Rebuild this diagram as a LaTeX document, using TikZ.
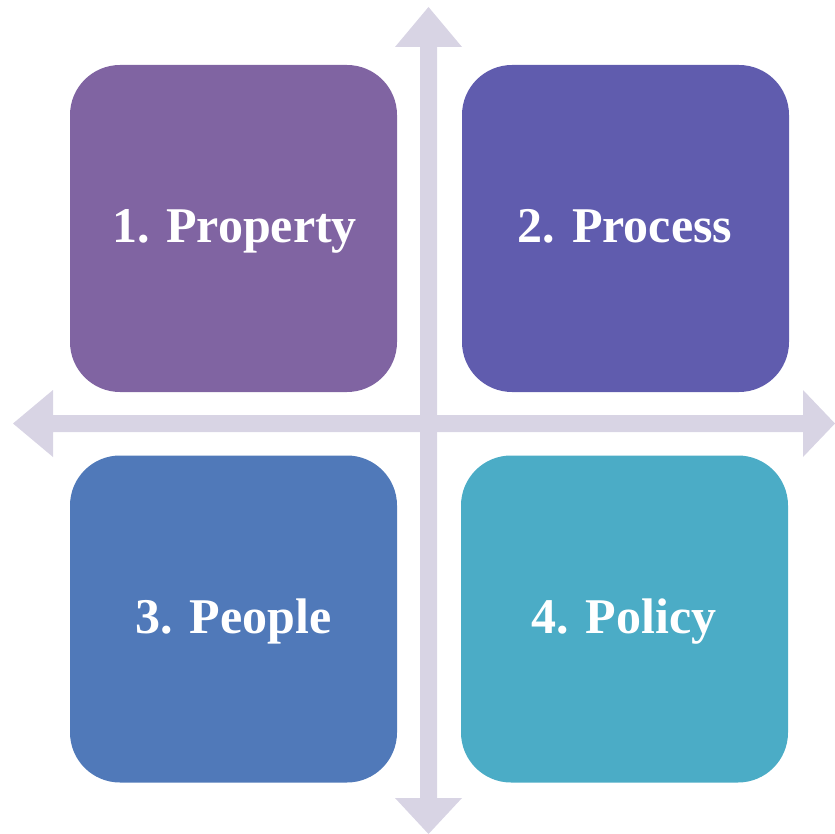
\documentclass[tikz,border=0pt]{standalone}
\usepackage{fontspec}
\setmainfont{Liberation Serif}
\definecolor{arrowc}{HTML}{D8D4E4}
\definecolor{cA}{HTML}{8064A2}
\definecolor{cB}{HTML}{605CAE}
\definecolor{cC}{HTML}{5079B9}
\definecolor{cD}{HTML}{4BACC6}
\tikzset{
  quad/.style={fill=#1, draw=none, rounded corners=50pt, minimum width=327pt, minimum height=327pt, inner sep=0pt},
  qlabel/.style={text=white, font=\bfseries\fontsize{50}{60}\selectfont, inner sep=0pt, anchor=base},
  axis/.style={fill=arrowc, draw=none}
}
\begin{document}
\begin{tikzpicture}[x=1pt,y=-1pt]
\useasboundingbox (0,0) rectangle (835,834);
% vertical axis
\fill[axis] (420,47) -- (395,47) -- (428.5,7) -- (462,47) -- (437,47) -- (437,798) -- (462,798) -- (428.5,834) -- (395,798) -- (420,798) -- cycle;
% horizontal axis
\fill[axis] (53,415) -- (53,390) -- (13,423.5) -- (53,457) -- (53,432) -- (803,432) -- (803,457) -- (835,423.5) -- (803,390) -- (803,415) -- cycle;
\node[quad=cA] (q1) at (233.5,228.5) {};
\node[quad=cB] (q2) at (625.5,228.5) {};
\node[quad=cC] (q3) at (233.5,619) {};
\node[quad=cD] (q4) at (624.5,619) {};
\node[qlabel] (t1) at (234.5,243) {1. Property};
\node[qlabel] (t2) at (625,243) {2. Process};
\node[qlabel] (t3) at (233.5,633) {3. People};
\node[qlabel] (t4) at (624,633) {4. Policy};
\end{tikzpicture}
\end{document}
